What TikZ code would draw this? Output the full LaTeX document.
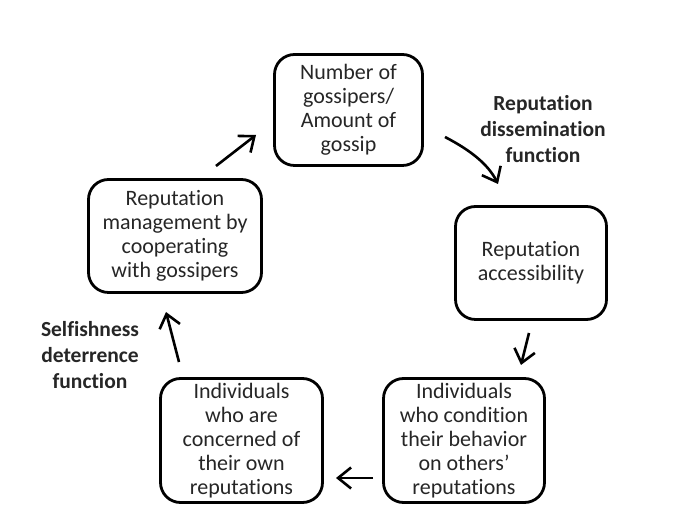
\documentclass[tikz,border=0pt]{standalone}
\usepackage{fontspec}
\setmainfont{Carlito}[Ligatures=NoCommon]
\usetikzlibrary{arrows.meta}
\tikzset{
  box/.style={draw, line width=2.8pt, rounded corners=20pt, align=center, inner sep=2pt,
    font=\fontsize{22}{24}\selectfont, text=black!85},
  lbl/.style={align=center, font=\fontsize{21.5}{26}\selectfont\bfseries, text=black!85},
  arr/.style={line width=2.6pt, -{Straight Barb[length=13pt,width=21pt,line width=2.6pt]}}
}
\begin{document}
\begin{tikzpicture}[x=1pt,y=1pt]
\useasboundingbox[fill=white] (0,0) rectangle (676,526);
\node[box, minimum width=148pt, minimum height=111pt] (gossip) at (348.5,416) {Number of\\gossipers/\\Amount of\\gossip};
\node[box, minimum width=173pt, minimum height=113pt] (manage) at (175,290) {Reputation\\management by\\cooperating\\with gossipers};
\node[box, minimum width=151pt, minimum height=113pt] (access) at (531,263) {Reputation\\accessibility};
\node[box, minimum width=162pt, minimum height=124pt] (concern) at (241.5,85.5) {Individuals\\who are\\concerned of\\their own\\reputations};
\node[box, minimum width=161pt, minimum height=124pt] (cond) at (464,85.5) {Individuals\\who condition\\their behavior\\on others'\\reputations};

\node[lbl] (diss) at (543,397) {Reputation\\dissemination\\function};
\node[lbl] (self) at (90,171) {Selfishness\\deterrence\\function};

\coordinate (a1s) at (216,360);
\coordinate (a1e) at (256,391);
\coordinate (a2s) at (445,389);
\coordinate (a2e) at (498,342);
\coordinate (a3s) at (529,193);
\coordinate (a3e) at (521,161);
\coordinate (a4s) at (373,48);
\coordinate (a4e) at (336,48);
\coordinate (a5s) at (179,164);
\coordinate (a5e) at (166,214);

\draw[arr] (a1s) -- (a1e);
\draw[arr] (a2s) .. controls (470,376) and (488,362) .. (a2e);
\draw[arr] (a3s) -- (a3e);
\draw[arr] (a4s) -- (a4e);
\draw[arr] (a5s) -- (a5e);
\end{tikzpicture}
\end{document}
